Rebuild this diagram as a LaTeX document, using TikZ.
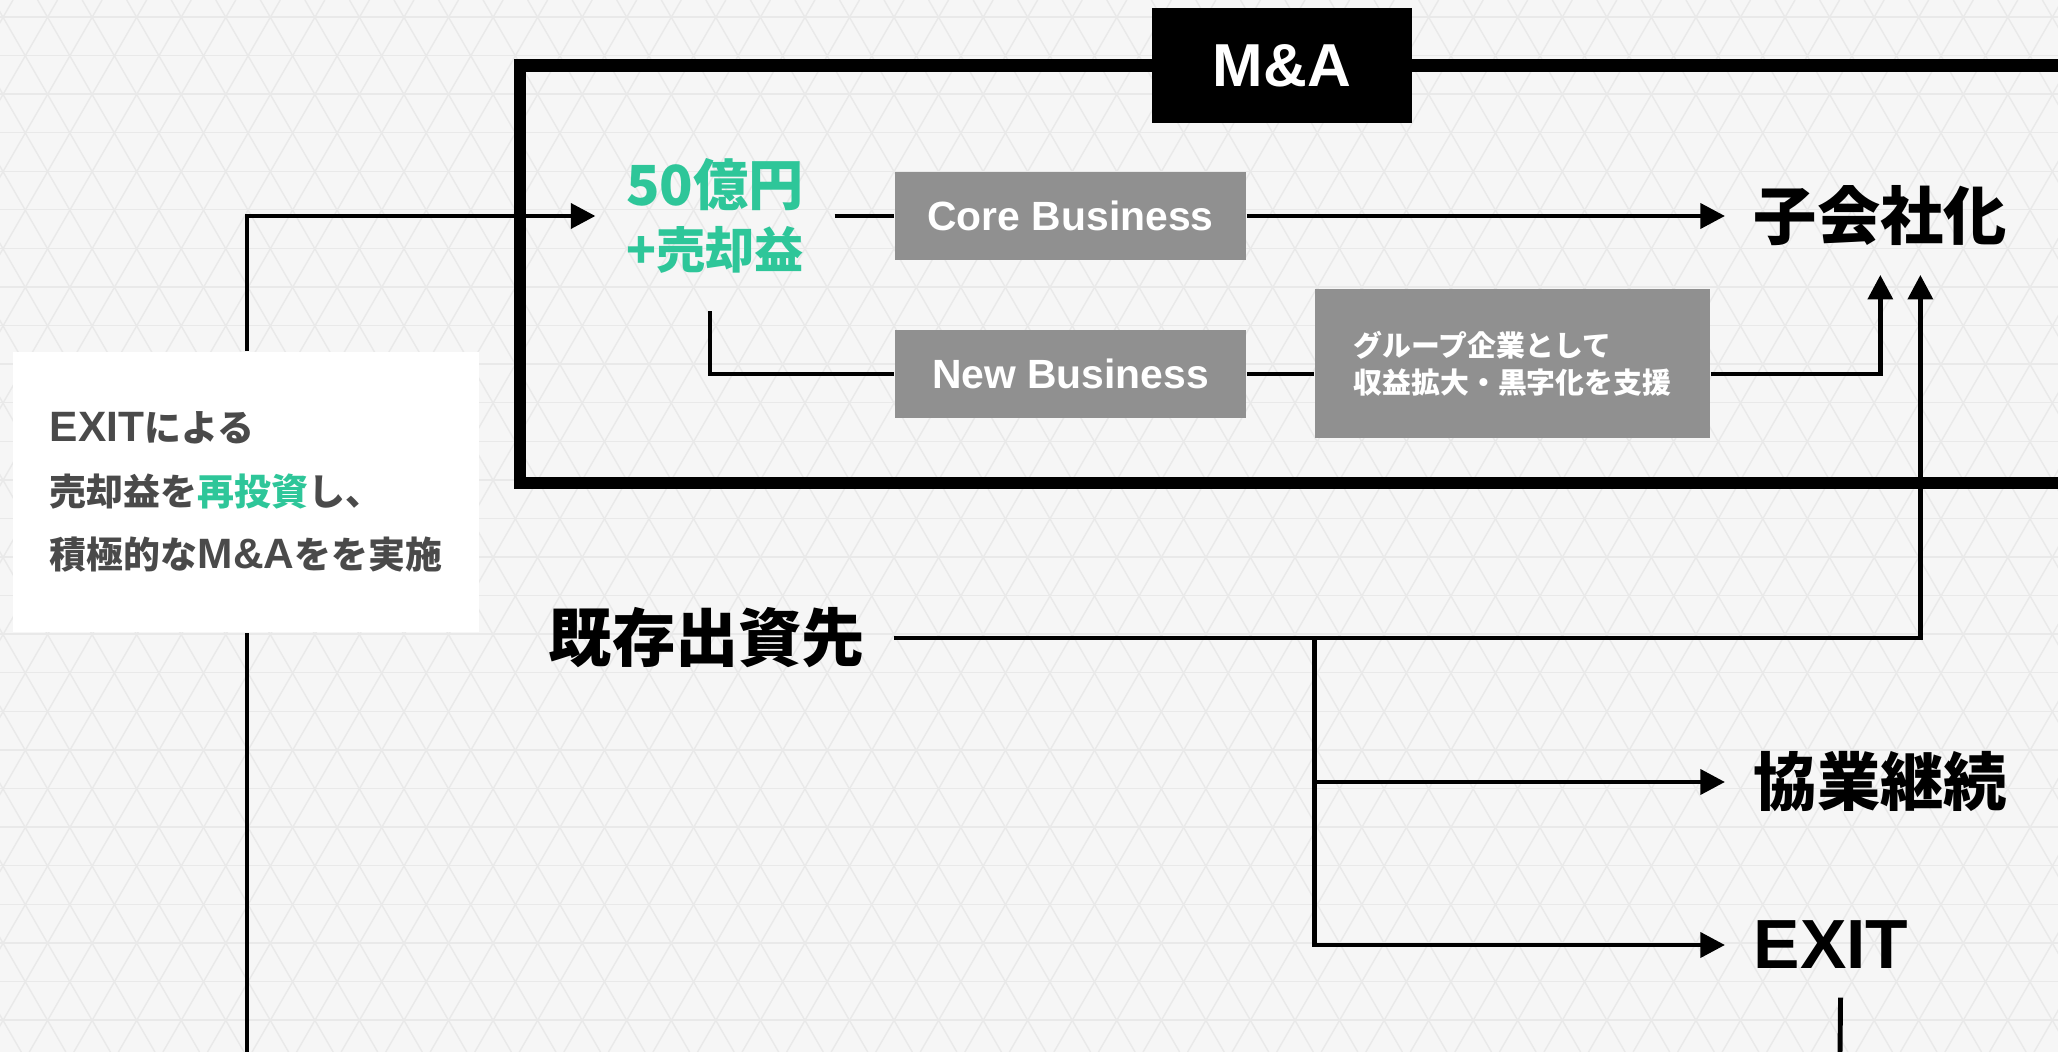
\documentclass[tikz,border=0pt]{standalone}
\usepackage{fontspec}
\setmainfont{Noto Sans CJK JP}
\newfontfamily\latfont{Liberation Sans}[Scale=1.15]
\usetikzlibrary{arrows.meta}
\usetikzlibrary{calc}

\definecolor{bgcol}{HTML}{F6F6F6}
\definecolor{hexcol}{HTML}{E9E9E9}
\definecolor{boxgray}{HTML}{909090}
\definecolor{mint}{HTML}{2EC699}
\definecolor{notegray}{HTML}{4A4A4A}

\begin{document}
\begin{tikzpicture}[x=0.01cm, y=-0.01cm,
    conn/.style={line width=1.4pt},
    arr/.style={conn, -{Triangle[length=7pt,width=7pt]}},
    biglabel/.style={font=\bfseries\fontsize{18pt}{18pt}\selectfont, inner sep=0.28cm},
    bizbox/.style={fill=boxgray, text=white, minimum width=3.51cm, minimum height=0.88cm,
        font=\latfont\bfseries\fontsize{10.1pt}{12pt}\selectfont}]
    \useasboundingbox (0,0) rectangle (2058,1052);
    \clip (0,0) rectangle (2058,1052);
    \fill[bgcol] (0,0) rectangle (2058,1052);

    % background pattern
    \foreach \k in {-14,...,61} {
        \draw[hexcol, line width=0.4pt] (37.6+44.55*\k,0) -- ++(607.4,1052);
        \draw[hexcol, line width=0.4pt] (13+44.55*\k,0) -- ++(-607.4,1052);
    }
    \foreach \j in {0,...,27}
        \draw[hexcol, line width=0.4pt] (0,16.9+38.58*\j) -- (2058,16.9+38.58*\j);

    % M&A frame
    \draw[line width=3.5pt] (520,65.5) rectangle (2150,483);
    \node[fill=black, text=white, minimum width=2.6cm, minimum height=1.15cm,
        font=\latfont\bfseries\fontsize{15pt}{15pt}\selectfont] (ma) at (1282,65.5) {M\&A};

    % funds
    \node[text=mint, align=center, inner sep=0.3cm,
        font=\bfseries\fontsize{15.7pt}{18pt}\selectfont] (fund) at (715,216)
        {50億円\\{\fontsize{14pt}{18pt}\selectfont +売却益}};

    % business boxes
    \node[bizbox] (core) at (1070.5,216) {Core Business};
    \node[bizbox] (newb) at (1070.5,374) {New Business};
    \node[fill=boxgray, text=white, minimum width=3.95cm, minimum height=1.49cm, align=left,
        font=\bfseries\fontsize{8.2pt}{10.5pt}\selectfont] (supp) at (1512.5,363.5)
        {グループ企業として\\収益拡大・黒字化を支援};

    % outcomes
    \node[biglabel, anchor=west] (sub) at (1725,216) {子会社化};
    \node[biglabel, anchor=west] (kyo) at (1725,782) {協業継続};
    \node[biglabel, anchor=west, font=\latfont\bfseries\fontsize{17.2pt}{18pt}\selectfont]
        (exit) at (1725,945) {EXIT};
    \node[biglabel] (kizon) at (707,638) {既存出資先};

    % note
    \node[fill=white, minimum width=4.66cm, minimum height=2.8cm, align=left, text=notegray,
        font=\bfseries\fontsize{10.5pt}{18.1pt}\selectfont] (note) at (246,492)
        {{\latfont EXIT}による\\売却益を\textcolor{mint}{再投資}し、\\積極的な{\latfont M\&A}をを実施};

    \coordinate (loopbot) at (247,1052);
    \coordinate (exitbot) at (1840,1052);

    % Lines
    \draw[conn] (loopbot) -- (loopbot |- note.south);
    \draw[arr] (loopbot |- note.north) |- (fund.west);
    \draw[conn] (fund.east) -- (core.west);
    \draw[arr] (core.east) -- (sub.west);
    \draw[conn, shorten <=0.07cm] ([xshift=-0.05cm]fund.south) |- (newb.west);
    \draw[conn] (newb.east) -- (newb.east -| supp.west);
    \draw[arr] (newb.east -| supp.east) -| (sub.south);
    \draw[arr] (kizon.east) -| ([xshift=0.4cm]sub.south);
    \draw[arr] (kizon.east -| supp.west) |- (kyo.west);
    \draw[arr] (kizon.east -| supp.west) |- (exit.west);
    \draw[conn] ([xshift=0.095cm]exit.south) -- (exitbot);
\end{tikzpicture}
\end{document}
